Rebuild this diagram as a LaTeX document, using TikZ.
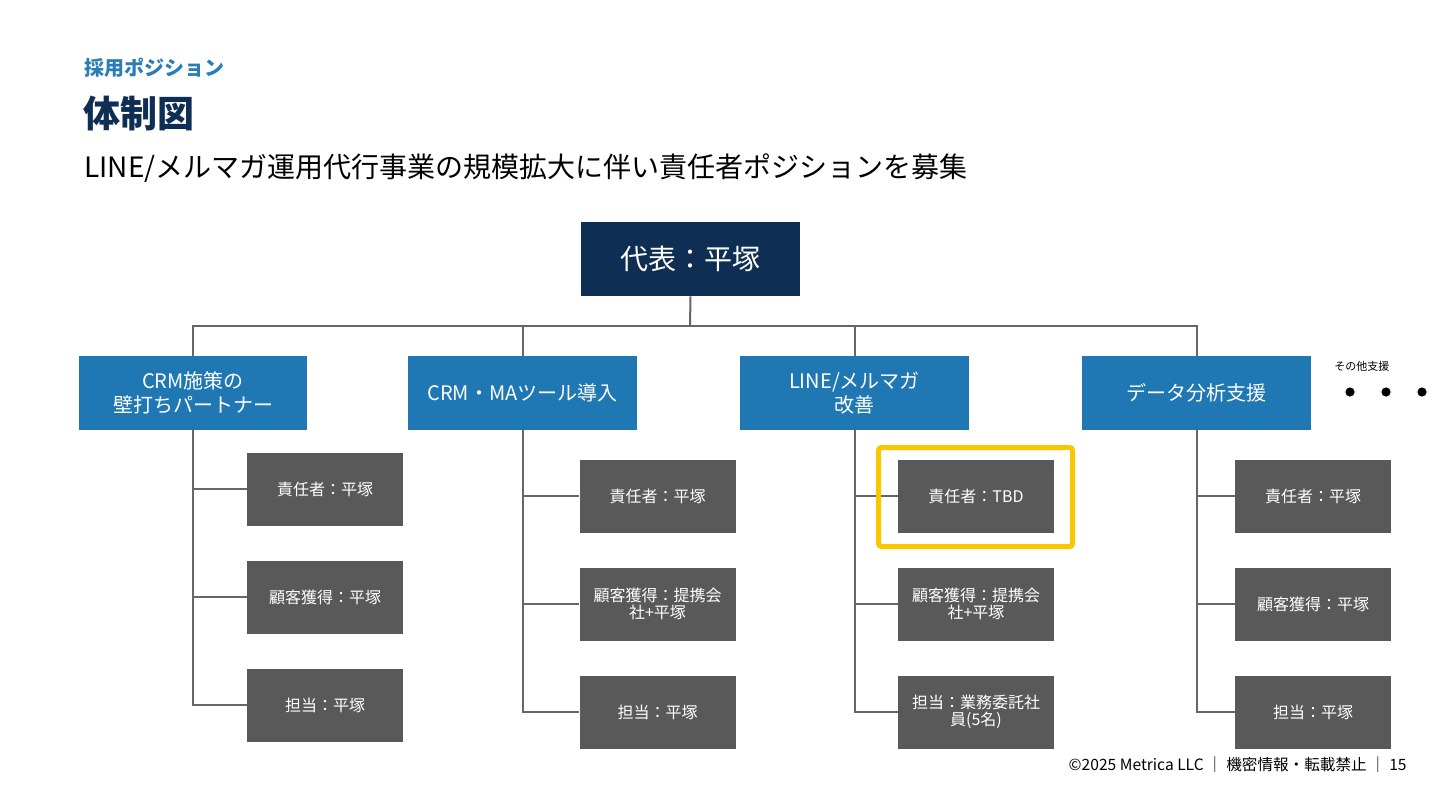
\documentclass[tikz,border=0pt]{standalone}
\usepackage{fontspec}
\setmainfont{Noto Sans CJK JP}
\usetikzlibrary{positioning}
\definecolor{navy}{HTML}{0F2E54}
\definecolor{midblue}{HTML}{1F78B4}
\definecolor{headblue}{HTML}{2A7DB5}
\definecolor{boxgrey}{HTML}{595959}
\definecolor{linegrey}{HTML}{666666}
\definecolor{hlyellow}{HTML}{F9C600}
\tikzset{
  topbox/.style={fill=navy, text=white, minimum width=219*0.5pt, minimum height=74*0.5pt, inner sep=0pt, font=\fontsize{14pt}{17pt}\selectfont},
  deptbox/.style={fill=midblue, text=white, minimum width=229*0.5pt, minimum height=74*0.5pt, inner sep=0pt, align=center, font=\fontsize{10pt}{12pt}\selectfont},
  rolebox/.style={fill=boxgrey, text=white, minimum width=156*0.5pt, minimum height=73*0.5pt, inner sep=0pt, align=center, font=\fontsize{8pt}{8.5pt}\selectfont},
  conn/.style={draw=linegrey, line width=1pt},
  plain/.style={inner sep=0pt, anchor=west}
}
\begin{document}
\begin{tikzpicture}[x=0.5pt,y=-0.5pt]
\useasboundingbox (0,0) rectangle (1440,810);
\fill[white] (0,0) rectangle (1440,810);
% headings
\node[plain, text=headblue, font=\fontsize{10pt}{12pt}\selectfont\bfseries] (kicker) at (84,68) {採用ポジション};
\node[plain, text=navy, font=\fontsize{18.5pt}{22pt}\selectfont\bfseries] (title) at (83,114) {体制図};
\node[plain, text=black, font=\fontsize{14pt}{17pt}\selectfont] (sub) at (84,168) {LINE/メルマガ運用代行事業の規模拡大に伴い責任者ポジションを募集};
% top
\node[topbox] (top) at (690.5,259) {代表：平塚};
% departments
\node[deptbox, minimum width=228*0.5pt] (d1) at (193,393) {CRM施策の\\壁打ちパートナー};
\node[deptbox] (d2) at (522.5,393) {CRM・MAツール導入};
\node[deptbox] (d3) at (854.5,393) {LINE/メルマガ\\改善};
\node[deptbox] (d4) at (1196.5,393) {データ分析支援};
% bar
\coordinate (bar) at (690,326);
\draw[conn] (top.south) -- (bar);
\draw[conn] (d1.north) |- (bar);
\draw[conn] (d4.north) |- (bar);
\draw[conn] (d2.north) -- (d2.north |- bar);
\draw[conn] (d3.north) -- (d3.north |- bar);
% roles col 1
\node[rolebox] (r11) at (325,489) {責任者：平塚};
\node[rolebox] (r12) at (325,597) {顧客獲得：平塚};
\node[rolebox] (r13) at (325,705) {担当：平塚};
% col 2
\node[rolebox] (r21) at (657.5,496) {責任者：平塚};
\node[rolebox] (r22) at (657.5,604) {顧客獲得：提携会\\社+平塚};
\node[rolebox] (r23) at (657.5,712) {担当：平塚};
% col 3
\node[rolebox] (r31) at (976,496) {責任者：TBD};
\node[rolebox] (r32) at (976,604) {顧客獲得：提携会\\社+平塚};
\node[rolebox] (r33) at (976,712) {担当：業務委託社\\員(5名)};
% col 4
\node[rolebox] (r41) at (1313,496) {責任者：平塚};
\node[rolebox] (r42) at (1313,604) {顧客獲得：平塚};
\node[rolebox] (r43) at (1313,712) {担当：平塚};
% connectors
\foreach \d/\c in {d1/1,d2/2,d3/3,d4/4}{
  \draw[conn] (\d.south) |- (r\c3.west);
  \draw[conn] (\d.south |- r\c1.west) -- (r\c1.west);
  \draw[conn] (\d.south |- r\c2.west) -- (r\c2.west);
}
% highlight
\node[draw=hlyellow, line width=2.5pt, rounded corners=1.5pt, minimum width=194*0.5pt, minimum height=99*0.5pt, inner sep=0pt] (hl) at (975.5,497) {};
% other support
\node[plain, font=\fontsize{5.5pt}{6.5pt}\selectfont] (other) at (1334,366) {その他支援};
\fill (1350,392) circle (2.3pt) (1386,392) circle (2.3pt) (1422,392) circle (2.3pt);
% footer
\node[inner sep=0pt, anchor=east, font=\fontsize{7.8pt}{9pt}\selectfont] (foot) at (1407,765) {©2025 Metrica LLC ｜ 機密情報・転載禁止 ｜ 15};
\end{tikzpicture}
\end{document}
